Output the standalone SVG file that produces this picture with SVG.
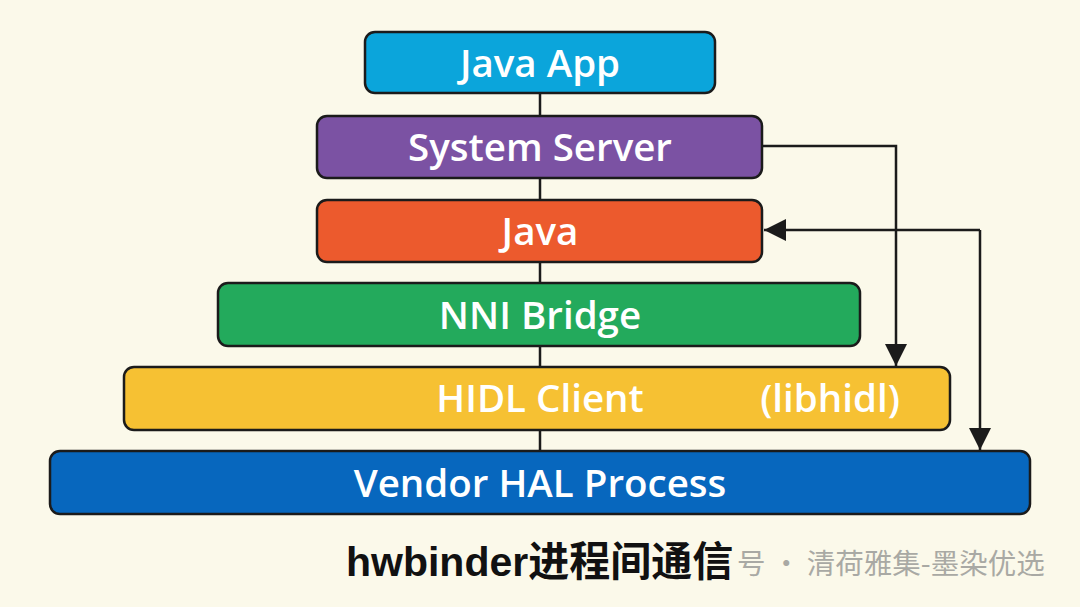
<svg xmlns="http://www.w3.org/2000/svg" width="1080" height="607" viewBox="0 0 1080 607">
<style>
.box{stroke:#1b1b1b;stroke-width:2.5}
.lbl{font-family:"Open Sans","Liberation Sans",Arial,sans-serif;font-weight:600;font-size:38.5px;fill:#ffffff;text-anchor:middle}
.ln{stroke:#1b1b1b;stroke-width:2.5;fill:none}
</style>
<defs>
<marker id="ah" viewBox="0 0 20 20" refX="20" refY="10" markerWidth="22" markerHeight="22" markerUnits="userSpaceOnUse" orient="auto">
<path d="M0,0 L20,10 L0,20 z" fill="#1b1b1b"/>
</marker>
</defs>
<rect width="1080" height="607" fill="#fbf9ea"/>
<g id="connectors">
<line class="ln" x1="540" y1="93" x2="540" y2="116"/>
<line class="ln" x1="540" y1="178" x2="540" y2="200"/>
<line class="ln" x1="540" y1="262" x2="540" y2="283"/>
<line class="ln" x1="540" y1="346" x2="540" y2="367"/>
<line class="ln" x1="540" y1="430" x2="540" y2="451"/>
<path class="ln" d="M762,146 H896 V366" marker-end="url(#ah)"/>
<path class="ln" d="M980,230 H764" marker-end="url(#ah)"/>
<path class="ln" d="M980,230 V450" marker-end="url(#ah)"/>
</g>
<g id="java-app">
<rect class="box" x="365" y="32" width="350" height="61" rx="10" fill="#0ba5db"/>
<text class="lbl" x="540" y="77">Java App</text>
</g>
<g id="system-server">
<rect class="box" x="317" y="116" width="445" height="62" rx="10" fill="#7b52a3"/>
<text class="lbl" x="540" y="161">System Server</text>
</g>
<g id="java">
<rect class="box" x="317" y="200" width="445" height="62" rx="10" fill="#ec5a2d"/>
<text class="lbl" x="540" y="245">Java</text>
</g>
<g id="nni-bridge">
<rect class="box" x="218" y="283" width="642" height="63" rx="10" fill="#23aa5c"/>
<text class="lbl" x="540" y="329">NNI Bridge</text>
</g>
<g id="hidl-client">
<rect class="box" x="124" y="367" width="826" height="63" rx="10" fill="#f6c133"/>
<text class="lbl" x="540" y="412">HIDL Client</text>
<text class="lbl" x="830" y="412">(libhidl)</text>
</g>
<g id="vendor-hal">
<rect class="box" x="50" y="451" width="980" height="63" rx="10" fill="#0767be"/>
<text class="lbl" x="540" y="497">Vendor HAL Process</text>
</g>
<text x="737" y="574" font-family="'Noto Sans CJK SC',sans-serif" font-size="28.5" fill="#a9a9a4">号 · 清荷雅集-墨染优选</text>
<text x="346" y="576" font-family="'Liberation Sans','Noto Sans CJK SC',sans-serif" font-weight="bold" font-size="41" fill="#111111">hwbinder进程间通信</text>
</svg>
